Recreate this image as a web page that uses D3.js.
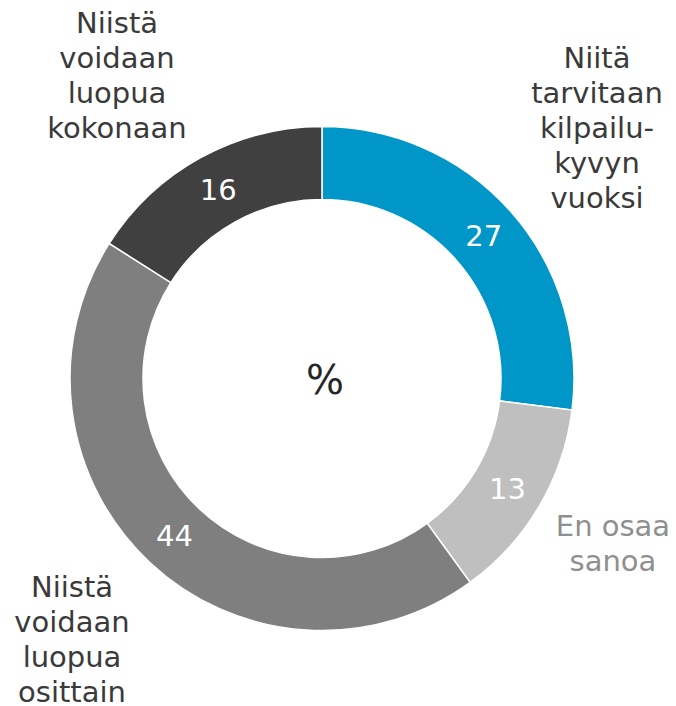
<!DOCTYPE html>
<html>
<head>
<meta charset="utf-8">
<script src="https://cdn.jsdelivr.net/npm/d3@7"></script>
<style>
  body { margin: 0; background: #fff; }
  text { font-family: "DejaVu Sans", Verdana, sans-serif; }
</style>
</head>
<body>
<div id="chart"></div>
<script>
var categories = ["Niitä tarvitaan kilpailu- kyvyn vuoksi", "En osaa sanoa", "Niistä voidaan luopua osittain", "Niistä voidaan luopua kokonaan"];
var values = [27, 13, 44, 16];
var colors = ["#0096c8", "#bfbfbf", "#7f7f7f", "#404040"];

// outer label lines and where they sit (layout only)
var labelLines = [
    ["Niitä", "tarvitaan", "kilpailu-", "kyvyn", "vuoksi"],
    ["En osaa", "sanoa"],
    ["Niistä", "voidaan", "luopua", "osittain"],
    ["Niistä", "voidaan", "luopua", "kokonaan"]
];
var labelPos = [[597, 68], [613, 536], [72, 597], [117, 33]];
var labelColor = ["#3a3a3a", "#8f8f8f", "#3a3a3a", "#3a3a3a"];

var width = 676, height = 706;
var cx = 322, cy = 378.5;
var outerR = 252, innerR = 179;
var lineH = 35;
var fs = 29;

var svg = d3.select("#chart").append("svg")
    .attr("width", width)
    .attr("height", height);

var g = svg.append("g")
    .attr("transform", "translate(" + cx + "," + cy + ")");

var pie = d3.pie().sort(null).value(function (d) { return d; });
var arc = d3.arc().innerRadius(innerR).outerRadius(outerR);

var arcs = pie(values);

g.selectAll("path.slice")
    .data(arcs)
    .enter().append("path")
    .attr("class", "slice")
    .attr("d", arc)
    .attr("fill", function (d, i) { return colors[i]; })
    .attr("stroke", "#fff")
    .attr("stroke-width", 1.5);

// value labels inside the ring
g.selectAll("text.val")
    .data(arcs)
    .enter().append("text")
    .attr("class", "val")
    .attr("transform", function (d) { return "translate(" + arc.centroid(d) + ")"; })
    .attr("text-anchor", "middle")
    .attr("dy", "0.36em")
    .attr("font-size", fs)
    .attr("fill", "#fff")
    .text(function (d) { return d.data; });

// centre mark
g.append("text")
    .attr("text-anchor", "middle")
    .attr("x", 3)
    .attr("y", 15)
    .attr("font-size", 40)
    .attr("fill", "#262626")
    .text("%");

// category labels
labelLines.forEach(function (lines, i) {
    var t = svg.append("text")
        .attr("text-anchor", "middle")
        .attr("font-size", fs)
        .attr("fill", labelColor[i]);
    lines.forEach(function (s, k) {
        t.append("tspan")
            .attr("x", labelPos[i][0])
            .attr("y", labelPos[i][1] + k * lineH)
            .text(s);
    });
});
</script>
</body>
</html>
